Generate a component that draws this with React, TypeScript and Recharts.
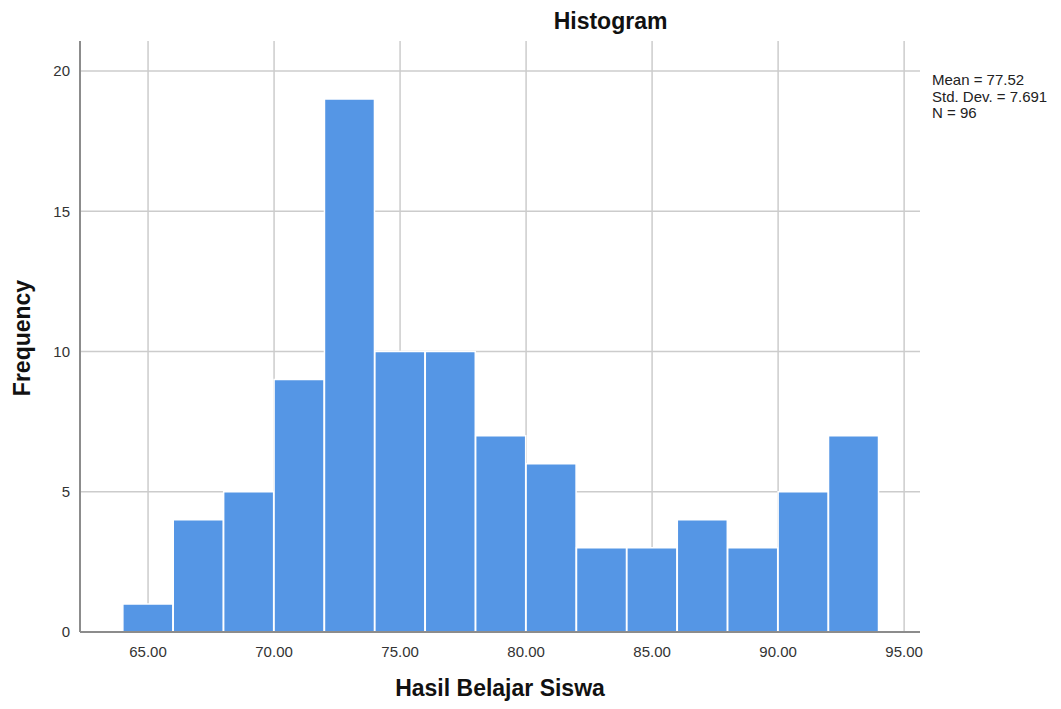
import { ComposedChart, Bar, XAxis, YAxis, CartesianGrid } from "recharts"

// bin midpoints (width 2) and frequency per bin
const binMids = [65, 67, 69, 71, 73, 75, 77, 79, 81, 83, 85, 87, 89, 91, 93]
const counts = [1, 4, 5, 9, 19, 10, 10, 7, 6, 3, 3, 4, 3, 5, 7]
const xTicks = [65, 70, 75, 80, 85, 90, 95]
const yTicks = [0, 5, 10, 15, 20]
const statLines = ["Mean = 77.52", "Std. Dev. = 7.691", "N = 96"]

const data = binMids.map((mid, i) => ({ mid, count: counts[i] }))

const FONT = "'Liberation Sans', Arial, sans-serif"

// grid only at the tick values, no frame lines at the plot edges
const scaleOf = (axis: any) => {
  const s = axis?.scale
  if (typeof s === "function") return s
  if (s && typeof s.map === "function") return (v: number) => s.map(v)
  return null
}

export default function App() {
  return (
    <div style={{ position: "relative", width: 1061, height: 709, margin: "-8px 0 0 -8px", fontFamily: FONT, background: "#fff" }}>
      <ComposedChart
        width={1061}
        height={709}
        data={data}
        margin={{ top: 41, right: 141, bottom: 47, left: 20 }}
        barCategoryGap={0}
        barGap={0}
      >
        <CartesianGrid
          stroke="#cccccc"
          strokeWidth={1.5}
          horizontalCoordinatesGenerator={(props: any) => {
            const s = scaleOf(props.yAxis)
            return s ? yTicks.filter((t) => t > 0).map((t) => s(t)) : []
          }}
          verticalCoordinatesGenerator={(props: any) => {
            const s = scaleOf(props.xAxis)
            return s ? xTicks.map((t) => s(t)) : []
          }}
        />
        <XAxis
          dataKey="mid"
          type="number"
          domain={[62.3, 95.63]}
          ticks={xTicks}
          tickFormatter={(v: number) => v.toFixed(2)}
          tickLine={false}
          axisLine={{ stroke: "#8c8c8c", strokeWidth: 2 }}
          tick={{ fill: "#333", fontSize: 15, fontFamily: FONT }}
          tickMargin={8}
          height={30}
          allowDataOverflow
        />
        <YAxis
          type="number"
          domain={[0, 21.07]}
          ticks={yTicks}
          tickLine={false}
          axisLine={{ stroke: "#8c8c8c", strokeWidth: 2 }}
          tick={{ fill: "#333", fontSize: 15, fontFamily: FONT }}
          tickMargin={4}
          width={60}
          allowDataOverflow
        />
        <Bar dataKey="count" fill="#5596e5" stroke="#ffffff" strokeWidth={1.5} isAnimationActive={false} />
      </ComposedChart>
      <div style={{ position: "absolute", left: 0, width: 1221, top: 8, textAlign: "center", fontSize: 23, fontWeight: "bold", color: "#111" }}>
        Histogram
      </div>
      <div style={{ position: "absolute", left: 0, width: 1000, top: 675, textAlign: "center", fontSize: 23, fontWeight: "bold", color: "#111" }}>
        Hasil Belajar Siswa
      </div>
      <div
        style={{
          position: "absolute",
          left: 22,
          top: 338,
          transform: "translate(-50%, -50%) rotate(-90deg)",
          fontSize: 23,
          fontWeight: "bold",
          color: "#111",
          whiteSpace: "nowrap",
        }}
      >
        Frequency
      </div>
      <div style={{ position: "absolute", left: 932, top: 72, fontSize: 15, lineHeight: "16.5px", color: "#222" }}>
        {statLines.map((s) => (
          <div key={s}>{s}</div>
        ))}
      </div>
    </div>
  )
}
